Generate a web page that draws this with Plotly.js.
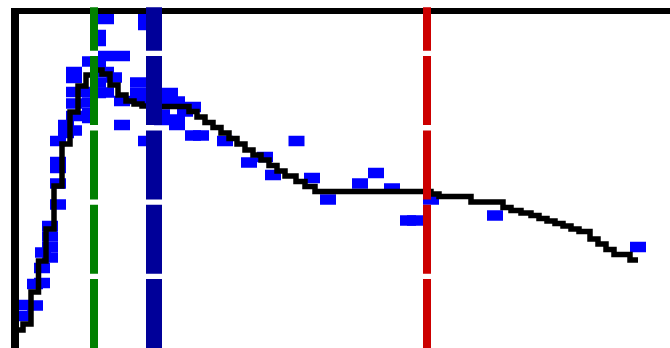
<!DOCTYPE html>
<html>
<head>
<meta charset="utf-8">
<script src="https://cdn.plot.ly/plotly-3.0.1.min.js"></script>
<style>html,body{margin:0;padding:0;background:#fff;}#chart{width:670px;height:348px;}</style>
</head>
<body>
<div id="chart"></div>
<script>
// Scatter observations (blue blocks)
const obsX = [0.5,0.5,1.6,1.6,2.3,2.3,2.4,3.1,3.1,3.1,3.1,3.9,3.9,3.9,3.9,4.7,4.7,3.9,5.5,5.5,
  7.1,7.1,7.1,7.1,5.5,5.5,5.5,5.5,7.1,8.7,7.9,7.9,8.7,10.3,7.9,8.7,9.5,7.9,7.9,8.7,
  10.3,11.9,11.9,11.9,12.7,12.7,10.3,12.7,15.1,15.1,15.8,17.4,16.6,14.3,14.3,15.8,15.8,17.4,18.2,20.6,
  27.75,24.6,23.0,25.4,29.3,30.9,34.1,35.7,37.3,38.9,39.6,41.2,47.6,61.9];
const obsY = [4.3,3.2,4.25,6.4,8.0,6.5,9.55,11.15,10.1,9.05,12.2,14.35,18.6,18.0,16.45,22.3,21.5,20.7,21.75,23.2,
  25.6,24.55,23.5,23.0,25.6,24.45,27.6,27.0,28.65,32.9,31.3,30.7,29.2,29.2,28.4,27.6,27.05,26.55,25.5,25.55,
  24.7,26.55,25.5,24.9,32.9,32.3,22.3,20.7,25.5,24.9,24.65,24.1,23.65,23.35,22.8,22.85,22.3,21.25,21.25,20.7,
  20.7,19.1,18.55,17.3,17.0,14.85,16.45,17.5,15.95,12.75,12.75,14.85,13.25,10.1];

// Smoothed trend (black step line)
const trendX = [0.0,0.4,1.2,1.95,2.7,3.5,4.3,5.1,5.9,6.7,7.5,8.3,9.1,9.9,10.7,11.5,12.3,13.1,17.0,17.8,
  18.6,19.4,20.2,21.0,21.8,22.6,23.4,24.2,25.0,25.8,26.6,27.7,28.6,29.6,41.2,42.0,45.2,48.4,49.2,50.2,
  51.2,52.0,52.8,53.6,54.4,55.2,56.0,57.1,57.9,58.7,59.5,61.1,61.9];
const trendY = [1.8,2.4,5.6,8.7,11.9,16.2,20.4,23.6,26.2,27.3,27.8,27.4,26.3,25.3,24.7,24.4,24.2,24.15,23.65,23.1,
  22.55,22.05,21.5,20.95,20.4,19.8,19.3,18.8,18.25,17.7,17.2,16.65,16.15,15.65,15.4,15.15,14.6,14.05,13.75,13.5,
  13.25,12.95,12.7,12.45,12.2,11.9,11.65,10.9,10.4,9.85,9.35,8.8,8.8];

// Reference vertical markers
const refX = [7.5, 13.5, 40.8];
const refColors = ['#008000', '#000099', '#cc0000'];
const refWidths = [8, 16, 8];

const traces = [
  {
    x: obsX, y: obsY, type: 'scatter', mode: 'markers', hoverinfo: 'skip',
    marker: {symbol: 'line-ew', size: 16 / 1.4, color: '#0000ff',
             line: {color: '#0000ff', width: 10.5}}
  },
  {
    x: trendX, y: trendY, type: 'scatter', mode: 'lines', hoverinfo: 'skip',
    line: {color: '#000000', width: 5.5, shape: 'hv'}
  }
];

const shapes = refX.map((v, i) => ({
  type: 'line', xref: 'x', yref: 'paper', x0: v, x1: v, y0: 0, y1: 1.02,
  line: {color: refColors[i], width: refWidths[i], dash: '69px,5.3px'}, layer: 'above'
}));

const layout = {
  width: 670, height: 348,
  margin: {l: 19, r: 0, t: 14, b: 0, pad: 0},
  paper_bgcolor: '#ffffff', plot_bgcolor: '#ffffff',
  showlegend: false,
  xaxis: {range: [0, 65.1], side: 'top', showline: true, linecolor: '#000000', linewidth: 6,
          showgrid: false, zeroline: false, showticklabels: false, ticks: ''},
  yaxis: {range: [0, 33.4], showline: true, linecolor: '#000000', linewidth: 8,
          showgrid: false, zeroline: false, showticklabels: false, ticks: ''},
  shapes: shapes
};

Plotly.newPlot('chart', traces, layout, {displayModeBar: false, staticPlot: true});
</script>
</body>
</html>
